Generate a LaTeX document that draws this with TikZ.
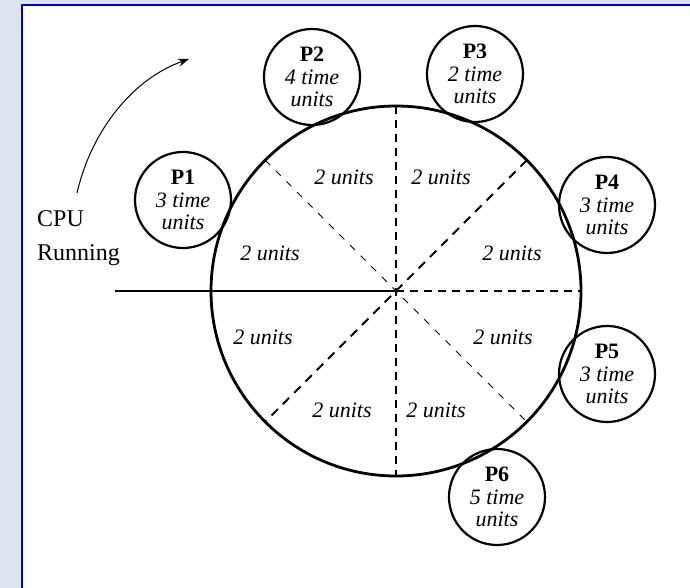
\documentclass[tikz,border=0pt]{standalone}
\usepackage{fontspec}
\setmainfont{Liberation Serif}
\usetikzlibrary{arrows.meta}
\definecolor{pagebg}{RGB}{220,228,240}
\definecolor{framebl}{RGB}{0,0,204}
\begin{document}
\begin{tikzpicture}[x=1pt,y=-1pt,
  proc/.style={circle,draw,line width=2.2pt,minimum size=96pt,inner sep=0pt,outer sep=0pt,
    align=center,font=\fontsize{22}{22.5}\selectfont},
  slice/.style={font=\fontsize{22}{24}\selectfont\itshape,inner sep=0pt},
  spoke/.style={line width=1.4pt,dash pattern=on 8pt off 6pt},
  spokethick/.style={line width=2pt,dash pattern=on 9pt off 7pt},
  spokethin/.style={line width=1pt,dash pattern=on 7pt off 8pt}]
  % page background and frame
  \useasboundingbox (0,0) rectangle (690,588);
  \fill[pagebg] (0,0) rectangle (690,588);
  \fill[white] (22,5) rectangle (690,588);
  \draw[framebl,line width=2.6pt] (22,600) -- (22,5) -- (700,5);

  % the ring of time slices
  \node[circle,draw,line width=2.8pt,minimum size=370pt,inner sep=0pt,outer sep=0pt] (ring) at (396,291) {};
  \coordinate (o) at (396,291);
  \coordinate (feed) at (115,291);
  \draw[line width=1.4pt] (feed) -- (o);
  \draw[spoke] (o) -- (ring.east);
  \draw[spoke] (ring.north) -- (ring.south);
  \draw[spokethick] (ring.45) -- (ring.225);
  \draw[spokethin] (ring.135) -- (ring.-45);

  % slice lengths
  \node[slice] (s1) at (344,177) {2 units};
  \node[slice] (s2) at (441,177) {2 units};
  \node[slice] (s3) at (270,253) {2 units};
  \node[slice] (s4) at (512,253) {2 units};
  \node[slice] (s5) at (263,337) {2 units};
  \node[slice] (s6) at (503,337) {2 units};
  \node[slice] (s7) at (342,410) {2 units};
  \node[slice] (s8) at (436,410) {2 units};

  % processes waiting around the ring
  \node[proc] (p1) at (183,200) {\textbf{P1}\\\textit{3 time}\\\textit{units}};
  \node[proc] (p2) at (312,77) {\textbf{P2}\\\textit{4 time}\\\textit{units}};
  \node[proc] (p3) at (475,74) {\textbf{P3}\\\textit{2 time}\\\textit{units}};
  \node[proc] (p4) at (607,205) {\textbf{P4}\\\textit{3 time}\\\textit{units}};
  \node[proc] (p5) at (607,374) {\textbf{P5}\\\textit{3 time}\\\textit{units}};
  \node[proc] (p6) at (497,497) {\textbf{P6}\\\textit{5 time}\\\textit{units}};

  % direction of rotation
  \node[align=left,anchor=north west,inner sep=0pt,font=\fontsize{24}{34}\selectfont] (cpu) at (37,210) {CPU\\Running};
  \coordinate (a1) at (77,193);
  \coordinate (a2) at (189,59);
  \draw[line width=1pt,-{Stealth[length=11pt,width=8pt]}] (a1) .. controls (92,128) and (135,78) .. (a2);
\end{tikzpicture}
\end{document}
